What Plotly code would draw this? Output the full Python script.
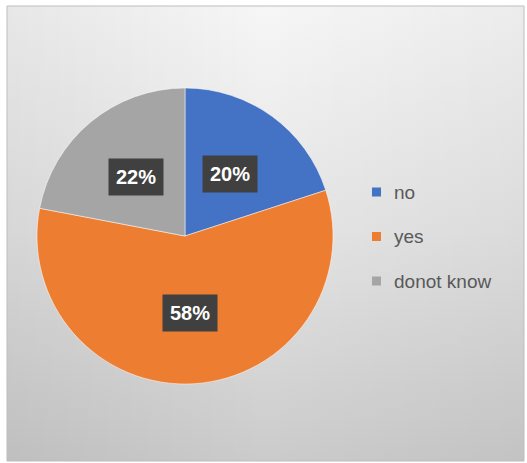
import base64
import math
import plotly.graph_objects as go

# ---- data ----
categories = ["no", "yes", "donot know"]
values = [20, 58, 22]
slice_colors = ["#4472C4", "#ED7D31", "#A5A5A5"]

W, H = 527, 463


def px(x):
    return x / W


def py(y):
    return 1 - y / H


# pie geometry (pixels)
cx, cy, r = 185, 236, 148

fig = go.Figure()
fig.add_trace(go.Pie(
    labels=categories,
    values=values,
    sort=False,
    direction="clockwise",
    rotation=0,
    marker=dict(colors=slice_colors, line=dict(color="#ffffff", width=0.5)),
    textinfo="none",
    hoverinfo="label+percent",
    showlegend=False,
    domain=dict(x=[px(cx - r), px(cx + r)], y=[py(cy + r), py(cy - r)]),
))

# background gradient via svg image
svg = (
    '<svg xmlns="http://www.w3.org/2000/svg" width="517" height="455" preserveAspectRatio="none">'
    '<defs><linearGradient id="g" x1="0" y1="0" x2="0" y2="1">'
    '<stop offset="0" stop-color="#f6f6f6"/>'
    '<stop offset="0.5" stop-color="#e4e4e4"/>'
    '<stop offset="1" stop-color="#cbcbcb"/>'
    '</linearGradient>'
    '<linearGradient id="h" x1="0" y1="0" x2="1" y2="0">'
    '<stop offset="0" stop-color="#000" stop-opacity="0.06"/>'
    '<stop offset="0.5" stop-color="#000" stop-opacity="0"/>'
    '<stop offset="1" stop-color="#000" stop-opacity="0.04"/>'
    '</linearGradient></defs>'
    '<rect width="517" height="455" fill="url(#g)"/>'
    '<rect width="517" height="455" fill="url(#h)"/>'
    '</svg>'
)
src = "data:image/svg+xml;base64," + base64.b64encode(svg.encode()).decode()

left, top, right, bottom = 7, 6, 524, 461
fig.add_layout_image(dict(
    source=src, xref="paper", yref="paper",
    x=px(left), y=py(top), sizex=px(right) - px(left), sizey=py(top) - py(bottom),
    xanchor="left", yanchor="top", sizing="stretch", layer="below",
))
fig.add_shape(type="rect", xref="paper", yref="paper",
              x0=px(left), x1=px(right), y0=py(bottom), y1=py(top),
              line=dict(color="#bdbdbd", width=1), fillcolor="rgba(0,0,0,0)")

# data labels in dark boxes
total = sum(values)
cum = 0
annotations = []
for cat, v in zip(categories, values):
    mid = (cum + v / 2) / total * 2 * math.pi
    cum += v
    f = 0.52
    lx = cx + r * f * math.sin(mid)
    ly = cy - r * f * math.cos(mid)
    annotations.append(dict(
        x=px(lx), y=py(ly), xref="paper", yref="paper",
        text=f"{round(v / total * 100)}%", showarrow=False,
        xanchor="center", yanchor="middle",
        bgcolor="#404040", borderpad=7,
        font=dict(family="Liberation Sans, Arial", size=20, color="#ffffff", weight="bold"),
    ))

# manual legend
leg_x, leg_y0, leg_dy, sq = 372, 192, 44.5, 9
for i, (cat, col) in enumerate(zip(categories, slice_colors)):
    yy = leg_y0 + i * leg_dy
    fig.add_shape(type="rect", xref="paper", yref="paper",
                  x0=px(leg_x), x1=px(leg_x + sq), y0=py(yy + sq / 2), y1=py(yy - sq / 2),
                  line=dict(width=0), fillcolor=col)
    annotations.append(dict(
        x=px(leg_x + sq + 11), y=py(yy), xref="paper", yref="paper",
        text=cat, showarrow=False, xanchor="left", yanchor="middle",
        font=dict(family="Liberation Sans, Arial", size=19, color="#595959"),
    ))

fig.update_layout(
    width=W, height=H,
    margin=dict(l=0, r=0, t=0, b=0),
    paper_bgcolor="#ffffff",
    plot_bgcolor="#ffffff",
    annotations=annotations,
    showlegend=False,
)

fig.write_html("out.html")
